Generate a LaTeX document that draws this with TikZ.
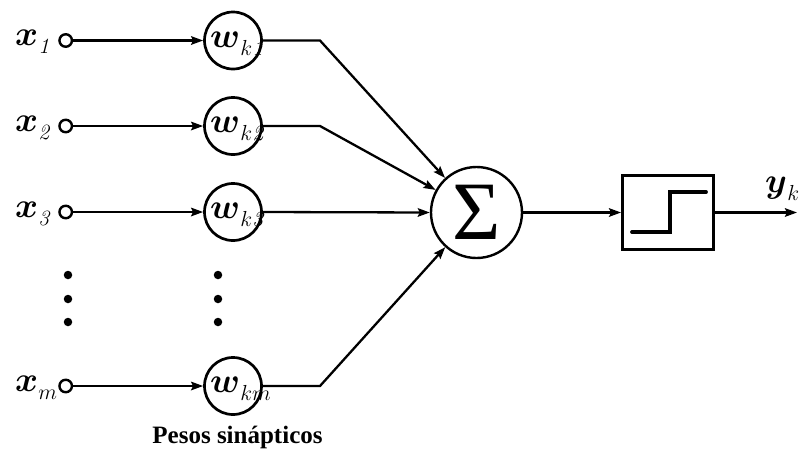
\documentclass[tikz,border=0pt]{standalone}
\usepackage{amsmath,bm,graphicx}
\usepackage{fontspec}
\newfontfamily\timesfont{Liberation Serif}
\usetikzlibrary{arrows.meta}
\newcommand\mylbl[2]{\scalebox{1.68}{\huge$\bm{#1}$}\kern0.3pt\raisebox{-8pt}{\scalebox{1.05}{\huge$#2$}}}
\begin{document}
\begin{tikzpicture}[x=1pt,y=-1pt,
  conn/.style={line width=2.3pt, -{Stealth[length=12pt,width=8.5pt,inset=2pt]}},
  inport/.style={circle, draw, line width=2.4pt, minimum size=12.5pt, inner sep=0pt},
  wnode/.style={circle, draw, line width=2.7pt, minimum size=57pt, inner sep=0pt},
  lab/.style={inner sep=0pt, anchor=base west},
  bigdot/.style={circle, fill, minimum size=8.5pt, inner sep=0pt}]
\useasboundingbox (0,0) rectangle (803,448);

% input ports
\node[inport] (i1) at (65.7,40.5) {};
\node[inport] (i2) at (65.7,126) {};
\node[inport] (i3) at (65.7,212) {};
\node[inport] (im) at (65.7,386) {};

% input labels
\node[lab] (lx1) at (15,45.5) {\mylbl{x}{\mathit{1}}};
\node[lab] (lx2) at (15,131) {\mylbl{x}{\mathit{2}}};
\node[lab] (lx3) at (15,217) {\mylbl{x}{\mathit{3}}};
\node[lab] (lxm) at (15,391) {\mylbl{x}{m}};

% weight circles
\node[wnode] (w1) at (233,40.5) {};
\node[wnode] (w2) at (233,126) {};
\node[wnode] (w3) at (233,212) {};
\node[wnode] (wm) at (233,386) {};

\node[lab] (lw1) at (210,47) {\mylbl{w}{k\mathit{1}}};
\node[lab] (lw2) at (210,132.5) {\mylbl{w}{k\mathit{2}}};
\node[lab] (lw3) at (210,218.5) {\mylbl{w}{k\mathit{3}}};
\node[lab] (lwm) at (210,392.5) {\mylbl{w}{km}};

% dots
\node[bigdot] (d1) at (68,275) {};
\node[bigdot] (d2) at (68,299) {};
\node[bigdot] (d3) at (68,322) {};
\node[bigdot] (e1) at (218,275) {};
\node[bigdot] (e2) at (218,299) {};
\node[bigdot] (e3) at (218,322) {};

% summation
\node[circle, draw, line width=2.4pt, minimum size=91pt, inner sep=0pt,
      font=\timesfont\fontsize{83}{90}\selectfont] (sig) at (476.5,212.5) {Σ};

% activation box
\node[draw, line width=2.9pt, minimum width=91pt, minimum height=74pt,
      inner sep=0pt] (box) at (668,212.5) {};
\draw[line width=3.8pt, line cap=round, line join=miter]
  (632,232) -- (670,232) -- (670,192) -- (706,192);

% bend points
\coordinate (b1) at (320,40.5);
\coordinate (b2) at (320,126);
\coordinate (bm) at (320,386);
\coordinate (out) at (797,212.5);

% connectors
\draw[conn] (i1) -- (w1);
\draw[conn] (i2) -- (w2);
\draw[conn] (i3) -- (w3);
\draw[conn] (im) -- (wm);

\draw[conn] (w1.east) -- (b1) -- (sig);
\draw[conn] (w2.east) -- (b2) -- (sig);
\draw[conn] (w3.east) -- (sig.west);
\draw[conn] (wm.east) -- (bm) -- (sig);

\draw[conn] (sig) -- (box);
\draw[conn] (box) -- (out);

\node[lab] (ly) at (765,192) {\mylbl{y}{k}};

\node[font=\timesfont\bfseries\fontsize{25}{30}\selectfont, anchor=base,
      inner sep=0pt] (cap) at (237.5,443) {Pesos sinápticos};
\end{tikzpicture}
\end{document}
